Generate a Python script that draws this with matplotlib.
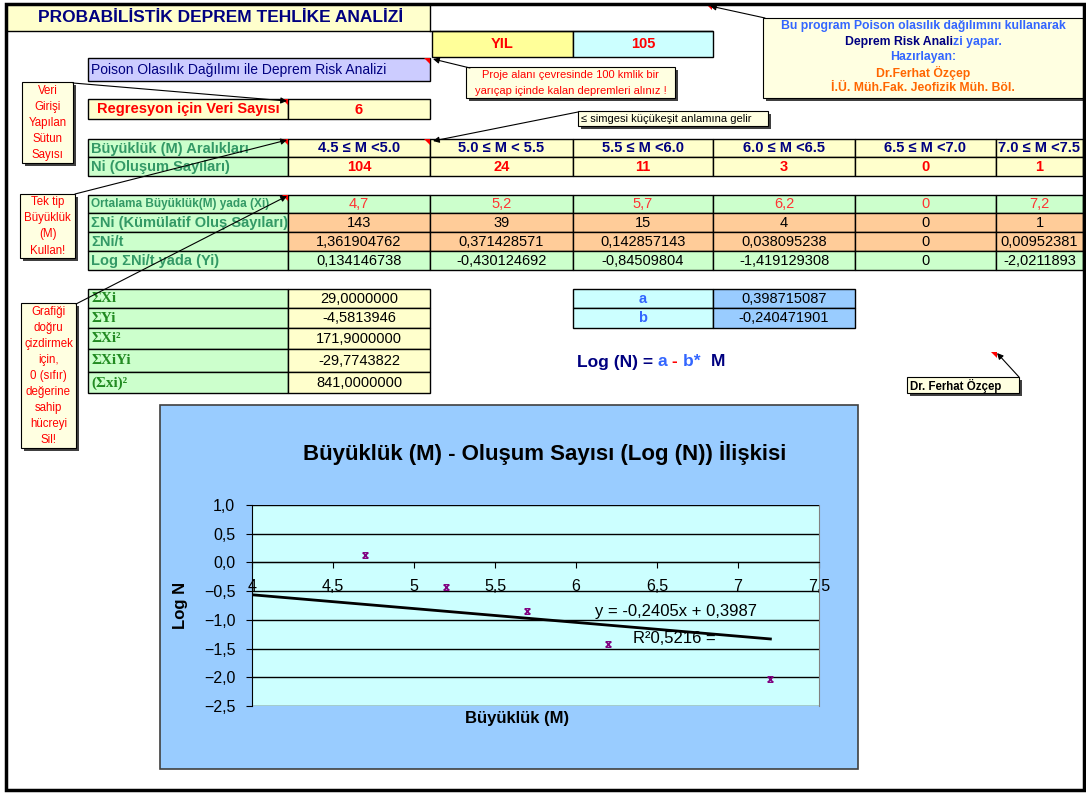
import numpy as np
import matplotlib.pyplot as plt
from matplotlib.patches import Rectangle, Polygon
from matplotlib.path import Path

plt.rcParams['font.family'] = ['Liberation Sans', 'DejaVu Sans']

# ---------------- data ----------------
yil = 105
veri_sayisi = 6
araliklar = ['4.5 ≤ M <5.0', '5.0 ≤ M < 5.5', '5.5 ≤ M <6.0',
             '6.0 ≤ M <6.5', '6.5 ≤ M <7.0', '7.0 ≤ M <7.5']
ni = [104, 24, 11, 3, 0, 1]
ort_m = [4.7, 5.2, 5.7, 6.2, 0, 7.2]
kum_ni = [143, 39, 15, 4, 0, 1]
ni_t = [1.361904762, 0.371428571, 0.142857143, 0.038095238, 0, 0.00952381]
log_ni_t = [0.134146738, -0.430124692, -0.84509804, -1.419129308, 0, -2.0211893]

toplam_etiket = ['ΣXi', 'ΣYi', 'ΣXi²', 'ΣXiYi', '(Σxi)²']
toplam_deger = [29.0, -4.5813946, 171.9, -29.7743822, 841.0]
a_deger = 0.398715087
b_deger = -0.240471901

x_ticks = [4, 4.5, 5, 5.5, 6, 6.5, 7, 7.5]
y_ticks = [-2.5, -2.0, -1.5, -1.0, -0.5, 0.0, 0.5, 1.0]

# ---------------- colours ----------------
SARI = '#FFFFCC'
SARI2 = '#FFFF99'
YESIL = '#CCFFCC'
TURUNCU = '#FFCC99'
CAMGOBEGI = '#CCFFFF'
MAVI = '#99CCFF'
LILA = '#CCCCFF'
NOT = '#FFFFE1'
YAZI_YESIL = '#339966'
LACIVERT = '#000080'
KIRMIZI = '#FF0000'
ROYAL = '#3366FF'
W, H = 1086, 794


def tr(v):
    return str(v).replace('.', ',')


fig = plt.figure(figsize=(W / 100, H / 100), dpi=100)
ax = fig.add_axes([0, 0, 1, 1])
ax.set_xlim(0, W)
ax.set_ylim(H, 0)
ax.axis('off')


def cell(x0, y0, x1, y1, fc, txt='', color='black', weight='normal', size=10,
         ha='center', family=None, clip=False):
    r = Rectangle((x0, y0), x1 - x0, y1 - y0, fc=fc, ec='black', lw=1, zorder=1)
    ax.add_patch(r)
    if txt != '':
        tx = (x0 + x1) / 2 if ha == 'center' else x0 + 3
        kw = dict(ha=ha, va='center', color=color, fontweight=weight, fontsize=size, zorder=2)
        if family:
            kw['family'] = family
        t = ax.text(tx, (y0 + y1) / 2 + 0.5, txt, **kw)
        if clip:
            t.set_clip_path(r)


def note(x0, y0, x1, y1, lines, color='red', size=8, weight='normal', ha='center'):
    ax.add_patch(Rectangle((x0 + 3, y0 + 3), x1 - x0, y1 - y0, fc='#404040', ec='none', zorder=3))
    ax.add_patch(Rectangle((x0, y0), x1 - x0, y1 - y0, fc=NOT, ec='black', lw=0.8, zorder=4))
    n = len(lines)
    if n == 0:
        return
    dy = (y1 - y0) / n
    for i, s in enumerate(lines):
        tx = (x0 + x1) / 2 if ha == 'center' else x0 + 3
        ax.text(tx, y0 + dy * (i + 0.5) + 0.5, s, ha=ha, va='center', color=color,
                fontsize=size, fontweight=weight, zorder=5)


def marker_red(x, y, s=6):
    ax.add_patch(Polygon([(x - s, y), (x, y), (x, y + s)], closed=True, fc='red', ec='none', zorder=6))


def arrow(tail, head):
    ax.annotate('', xy=head, xytext=tail,
                arrowprops=dict(arrowstyle='-|>', color='black', lw=0.8,
                                mutation_scale=9, shrinkA=0, shrinkB=0), zorder=7)


def colored(x, y, parts, size, weight='bold', center=False):
    rend = fig.canvas.get_renderer()
    objs = []
    x_start = x
    for s, c in parts:
        t = ax.text(x, y, s, color=c, fontsize=size, fontweight=weight, ha='left', va='center', zorder=6)
        bb = t.get_window_extent(rend)
        objs.append((t, x))
        x += bb.width
    if center:
        total = x - x_start
        for t, x0 in objs:
            t.set_x(x0 - total / 2)


# ---------------- outer frame & title ----------------
ax.add_patch(Rectangle((8, 4), 422, 27, fc=SARI, ec='none', zorder=0))
ax.plot([8, 712], [31, 31], color='black', lw=1)
ax.plot([430, 430], [4, 31], color='black', lw=1)
ax.text(221, 18, 'PROBABİLİSTİK DEPREM TEHLİKE ANALİZİ', ha='center', va='center',
        color=LACIVERT, fontsize=12.5, fontweight='bold')
ax.add_patch(Rectangle((6, 4), 1078, 786, fc='none', ec='black', lw=2.5, zorder=8))

cell(432, 31, 573, 57, SARI2, 'YIL', KIRMIZI, 'bold', 10.5)
cell(573, 31, 713, 57, CAMGOBEGI, str(yil), KIRMIZI, 'bold', 10.5)

cell(88, 58, 430, 81, LILA, 'Poison Olasılık Dağılımı ile Deprem Risk Analizi', LACIVERT, 'normal', 10, ha='left')
cell(88, 99, 288, 119, SARI, 'Regresyon için Veri Sayısı', KIRMIZI, 'bold', 10.5)
cell(288, 99, 430, 119, SARI, str(veri_sayisi), KIRMIZI, 'bold', 10.5)

# ---------------- magnitude tables ----------------
kol = [88, 288, 430, 573, 713, 855, 996, 1083]
cell(kol[0], 139, kol[1], 157, YESIL, 'Büyüklük (M) Aralıkları', YAZI_YESIL, 'bold', 10.5, ha='left')
cell(kol[0], 157, kol[1], 176, YESIL, 'Ni (Oluşum Sayıları)', YAZI_YESIL, 'bold', 10.5, ha='left')
cell(kol[0], 195, kol[1], 213, YESIL, 'Ortalama Büyüklük(M) yada (Xi)', YAZI_YESIL, 'bold', 8.5, ha='left')
cell(kol[0], 213, kol[1], 232, YESIL, 'ΣNi (Kümülatif Oluş Sayıları)', YAZI_YESIL, 'bold', 10.5, ha='left', clip=True)
cell(kol[0], 232, kol[1], 251, YESIL, 'ΣNi/t', YAZI_YESIL, 'bold', 10.5, ha='left')
cell(kol[0], 251, kol[1], 270, YESIL, 'Log ΣNi/t yada (Yi)', YAZI_YESIL, 'bold', 10.5, ha='left')

for i in range(len(araliklar)):
    x0, x1 = kol[i + 1], kol[i + 2]
    cell(x0, 139, x1, 157, SARI, araliklar[i], LACIVERT, 'bold', 10.5)
    cell(x0, 157, x1, 176, SARI, str(ni[i]), KIRMIZI, 'bold', 10.5)
    cell(x0, 195, x1, 213, YESIL, tr(ort_m[i]), '#FF3333', 'normal', 10.5)
    cell(x0, 213, x1, 232, TURUNCU, str(kum_ni[i]), 'black', 'normal', 10.5)
    cell(x0, 232, x1, 251, TURUNCU, tr(ni_t[i]), 'black', 'normal', 10.5)
    cell(x0, 251, x1, 270, YESIL, tr(log_ni_t[i]), 'black', 'normal', 10.5)

# ---------------- sums ----------------
satir = [289, 308, 328, 349, 372, 393]
for i, (et, dg) in enumerate(zip(toplam_etiket, toplam_deger)):
    cell(88, satir[i], 288, satir[i + 1], YESIL, et, '#228B22', 'bold', 11, ha='left', family='Liberation Serif')
    cell(288, satir[i], 430, satir[i + 1], SARI, f'{dg:.7f}'.replace('.', ','), 'black', 'normal', 10.5)

cell(573, 289, 713, 308, CAMGOBEGI, 'a', ROYAL, 'bold', 10.5)
cell(713, 289, 855, 308, MAVI, tr(a_deger), 'black', 'normal', 10.5)
cell(573, 308, 713, 328, CAMGOBEGI, 'b', ROYAL, 'bold', 10.5)
cell(713, 308, 855, 328, MAVI, tr(b_deger), 'black', 'normal', 10.5)

colored(577, 362, [('Log (N) = ', LACIVERT), ('a ', ROYAL), ('- ', KIRMIZI),
                   ('b*  ', ROYAL), ('M', LACIVERT)], 12.5)

# ---------------- comments ----------------
note(763, 18, 1083, 98, [], size=8)
colored(923, 26, [('Bu program Poison olasılık dağılımını kullanarak', ROYAL)], 8.8, center=True)
colored(923, 42, [('Deprem Risk Anali', LACIVERT), ('zi yapar.', ROYAL)], 8.8, center=True)
colored(923, 57, [('Hazırlayan:', ROYAL)], 8.8, center=True)
colored(923, 73, [('Dr.Ferhat Özçep', '#FF6600')], 8.8, center=True)
colored(923, 88, [('İ.Ü. Müh.Fak. Jeofizik Müh. Böl.', '#FF6600')], 8.8, center=True)

note(466, 67, 675, 98, ['Proje alanı çevresinde 100 kmlik bir',
                        'yarıçap içinde kalan depremleri alınız !'], 'red', 8)
note(578, 111, 768, 126, ['≤ simgesi küçükeşit anlamına gelir'], 'black', 8, ha='left')
note(22, 82, 73, 163, ['Veri', 'Girişi', 'Yapılan', 'Sütun', 'Sayısı'], 'red', 8.3)
note(20, 194, 75, 258, ['Tek tip', 'Büyüklük', '(M)', 'Kullan!'], 'red', 8.3)
note(21, 303, 76, 448, ['Grafiği', 'doğru', 'çizdirmek', 'için,', '0 (sıfır)',
                        'değerine', 'sahip', 'hücreyi', 'Sil!'], 'red', 8.3)
note(907, 377, 1019, 393, ['Dr. Ferhat Özçep'], 'black', 8.3, 'bold', ha='left')

for p in [(430, 58), (288, 99), (288, 139), (430, 139), (288, 195), (712, 4), (997, 352)]:
    marker_red(*p)

arrow((765, 18), (710, 6))
arrow((470, 68), (433, 59))
arrow((578, 112), (433, 141))
arrow((73, 83), (287, 101))
arrow((75, 194), (287, 140))
arrow((76, 304), (287, 196))
arrow((1019, 377), (997, 353))

# ---------------- chart ----------------
ax.add_patch(Rectangle((160, 405), 698, 364, fc=MAVI, ec='#404040', lw=1.2, zorder=1))
ax.text(545, 453, 'Büyüklük (M) - Oluşum Sayısı (Log (N)) İlişkisi', ha='center', va='center',
        fontsize=16, fontweight='bold', color='black', zorder=2)
ax.text(180, 605, 'Log N', rotation=90, ha='center', va='center', fontsize=12, fontweight='bold', zorder=2)
ax.text(517, 719, 'Büyüklük (M)', ha='center', va='center', fontsize=12, fontweight='bold', zorder=2)

cx = fig.add_axes([252 / W, 1 - 706 / H, (819 - 252) / W, (706 - 505) / H])
cx.set_facecolor(CAMGOBEGI)
cx.set_xlim(4, 7.5)
cx.set_ylim(-2.5, 1.0)
cx.set_xticks(x_ticks)
cx.set_xticklabels([f'{v:g}'.replace('.', ',') for v in x_ticks])
cx.set_yticks(y_ticks)
cx.set_yticklabels([f'{v:.1f}'.replace('.', ',').replace('-', '−') for v in y_ticks])
cx.yaxis.grid(True, color='black', lw=1)
cx.set_axisbelow(True)
cx.spines['top'].set_visible(False)
cx.spines['right'].set_color('#808080')
cx.spines['bottom'].set_position(('data', 0))
cx.tick_params(axis='x', direction='out', length=4, pad=8, labelsize=11.5)
cx.tick_params(axis='y', direction='out', length=4, pad=8, labelsize=11.5)

yildiz = Path([(-1, -1), (1, 1), (-1, 1), (1, -1), (-1, 1), (1, 1), (-1, -1), (1, -1)],
              [Path.MOVETO, Path.LINETO, Path.MOVETO, Path.LINETO,
               Path.MOVETO, Path.LINETO, Path.MOVETO, Path.LINETO])
cx.plot(ort_m, log_ni_t, linestyle='none', marker=yildiz, markersize=4,
        markeredgecolor='#800080', markeredgewidth=1, zorder=4)

egim, kesim = np.polyfit(ort_m, log_ni_t, 1)
r2 = np.corrcoef(ort_m, log_ni_t)[0, 1] ** 2
xs = np.array([min(ort_m), max(ort_m)])
cx.plot(xs, egim * xs + kesim, color='black', lw=2, zorder=3)
cx.text(6.12, -0.85, f'y = {egim:.4f}x + {kesim:.4f}'.replace('.', ','), fontsize=12,
        ha='left', va='center')
cx.text(6.35, -1.32, f'R²{r2:.4f} ='.replace('.', ','), fontsize=12, ha='left', va='center')

fig.savefig('out.png', dpi=100)
